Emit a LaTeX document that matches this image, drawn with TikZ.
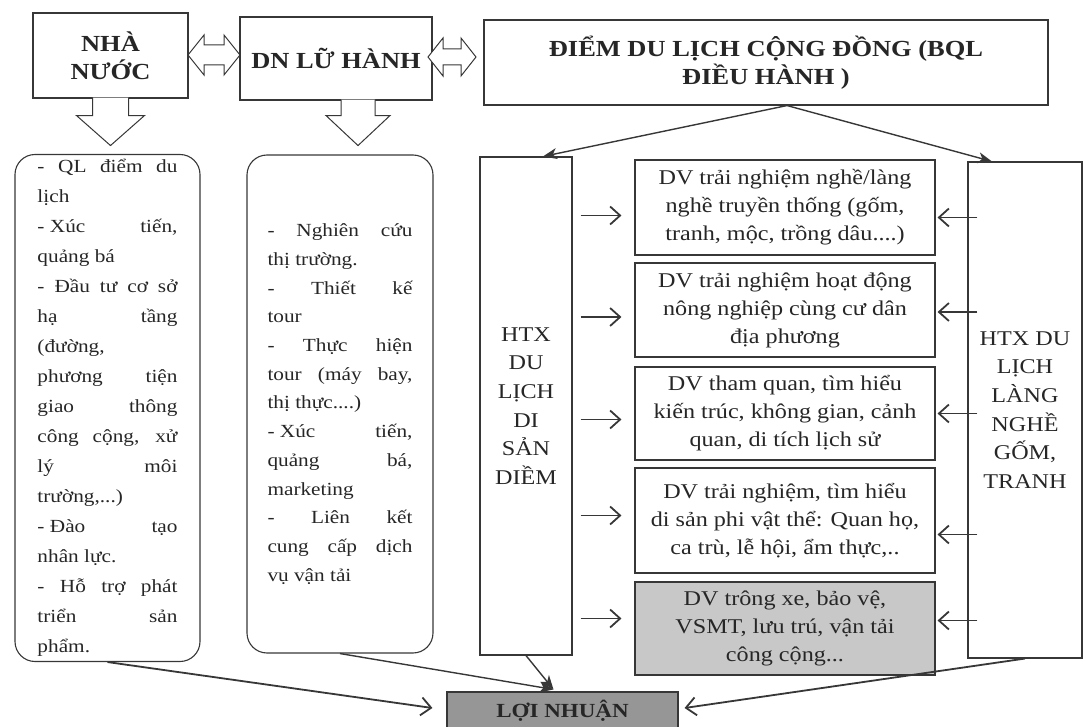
\documentclass[tikz,border=0pt]{standalone}
\usepackage{fontspec}
\setmainfont{Liberation Serif}[FakeStretch=1.15]
\usetikzlibrary{arrows.meta, positioning, calc}
\definecolor{linegray}{RGB}{55, 55, 55}
\definecolor{servgray}{RGB}{200, 200, 200}
\definecolor{profitgray}{RGB}{150, 150, 150}
\tolerance=10000
\hbadness=10000

\begin{document}
\begin{tikzpicture}[x=1pt, y=-1pt,
    box/.style={draw=linegray, line width=1.1pt, inner sep=4pt, align=center, text=black!85},
    headbox/.style={box, font=\fontsize{23}{28}\selectfont\bfseries},
    listbox/.style={box, rounded corners=20pt, align=justify, font=\fontsize{18.5}{28.7}\selectfont},
    htxbox/.style={box, font=\fontsize{21}{28.6}\selectfont},
    dvbox/.style={box, minimum width=300pt, font=\fontsize{21}{28}\selectfont},
    hollow/.style={draw=linegray, line width=1pt, fill=white, line join=miter},
    feed/.style={draw=linegray, line width=1.8pt, -{Straight Barb[length=10pt, width=18pt, line width=1.8pt]}},
    link/.style={draw=linegray, line width=1.4pt, -{Stealth[length=14pt, width=11pt, inset=4pt]}}
]
\useasboundingbox (0,0) rectangle (1085,727);

% top row
\node[headbox, minimum width=155pt, minimum height=85pt] (nha) at (110.5,55.5) {NHÀ\\NƯỚC};
\node[headbox, minimum width=192pt, minimum height=83pt] (dnlh) at (336,58.5) {DN LỮ HÀNH};
\node[headbox, minimum width=564pt, minimum height=85pt] (diem) at (766,62.5) {ĐIỂM DU LỊCH CỘNG ĐỒNG (BQL\\ĐIỀU HÀNH )};

% roles
\node[listbox, font=\fontsize{18.5}{30}\selectfont, text width=140pt, minimum width=185pt, minimum height=507pt] (qlbox) at (107.5,408) {
    - QL điểm du \linebreak lịch\\
    \mbox{- Xúc} tiến, \linebreak quảng bá\\
    - Đầu tư cơ sở \linebreak hạ tầng \linebreak (đường, \linebreak phương tiện \linebreak giao thông \linebreak công cộng, xử \linebreak lý môi \linebreak trường,...)\\
    \mbox{- Đào} tạo \linebreak nhân lực.\\
    - Hỗ trợ phát \linebreak triển sản \linebreak phẩm.
};
\node[listbox, text width=145pt, minimum width=186pt, minimum height=498pt] (dnbox) at (340,404) {
    - Nghiên cứu \linebreak thị trường.\\
    - Thiết kế \linebreak tour\\
    - Thực hiện \linebreak tour (máy bay, \linebreak thị thực....)\\
    \mbox{- Xúc} tiến, \linebreak quảng bá, \linebreak marketing\\
    - Liên kết \linebreak cung cấp dịch \linebreak vụ vận tải
};

% cooperatives
\node[htxbox, minimum width=92pt, minimum height=498pt] (htxdiem) at (526,406) {HTX\\DU\\LỊCH\\DI\\SẢN\\DIỀM};
\node[htxbox, minimum width=114pt, minimum height=496pt] (htxgom) at (1025,410) {HTX DU\\LỊCH\\LÀNG\\NGHỀ\\GỐM,\\TRANH};

% services
\node[dvbox, minimum height=95pt] (dv1) at (785,207.5) {DV trải nghiệm nghề/làng\\nghề truyền thống (gốm,\\tranh, mộc, trồng dâu....)};
\node[dvbox, minimum height=94pt] (dv2) at (785,310) {DV trải nghiệm hoạt động\\nông nghiệp cùng cư dân\\địa phương};
\node[dvbox, minimum height=93pt] (dv3) at (785,413.5) {DV tham quan, tìm hiểu\\kiến trúc, không gian, cảnh\\quan, di tích lịch sử};
\node[dvbox, minimum height=105pt] (dv4) at (785,520.5) {DV trải nghiệm, tìm hiểu\\di sản phi vật thể: Quan họ,\\ca trù, lễ hội, ẩm thực,..};
\node[dvbox, fill=servgray, minimum height=93pt] (dv5) at (785,628.5) {DV trông xe, bảo vệ,\\VSMT, lưu trú, vận tải\\công cộng...};

\node[headbox, fill=profitgray, font=\fontsize{20}{24}\selectfont\bfseries, minimum width=231pt, minimum height=38pt] (loi) at (562.5,711) {LỢI NHUẬN};

% hollow arrows
\coordinate (swap1) at (214,55);
\coordinate (swap2) at (452,57);
\draw[hollow, shift={(swap1)}] (-26,0) -- (-10,-20) -- (-10,-10) -- (10,-10) -- (10,-20) -- (26,0) -- (10,20) -- (10,10) -- (-10,10) -- (-10,20) -- cycle;
\draw[hollow, shift={(swap2)}] (-24,0) -- (-9,-19) -- (-9,-8) -- (9,-8) -- (9,-19) -- (24,0) -- (9,19) -- (9,8) -- (-9,8) -- (-9,19) -- cycle;
\draw[hollow, shift={(nha.south)}] (-18,-1) -- (-18,17) -- (-34,17) -- (0,47) -- (34,17) -- (18,17) -- (18,-1);
\draw[hollow, shift={($(dnlh.south)+(22,0)$)}] (-17,-1) -- (-17,15) -- (-32,15) -- (0,45) -- (32,15) -- (17,15) -- (17,-1);

% management to cooperatives
\draw[link] ($(diem.south)+(21,0)$) -- ($(htxdiem.north)+(17,0)$);
\draw[link] ($(diem.south)+(21,0)$) -- ($(htxgom.north)+(-33,0)$);

% cooperatives to services
\draw[feed] ($(htxdiem.east |- dv1.west)+(8,8)$) -- ($(dv1.west)+(-13,8)$);
\draw[feed] ($(htxdiem.east |- dv2.west)+(8,7)$) -- ($(dv2.west)+(-13,7)$);
\draw[feed] ($(htxdiem.east |- dv3.west)+(8,6)$) -- ($(dv3.west)+(-13,6)$);
\draw[feed] ($(htxdiem.east |- dv4.west)+(8,-5)$) -- ($(dv4.west)+(-13,-5)$);
\draw[feed] ($(htxdiem.east |- dv5.west)+(8,-10)$) -- ($(dv5.west)+(-13,-10)$);
\draw[feed] ($(htxgom.west |- dv1.east)+(10,10)$) -- ($(dv1.east)+(2,10)$);
\draw[feed] ($(htxgom.west |- dv2.east)+(10,2)$) -- ($(dv2.east)+(2,2)$);
\draw[feed] ($(htxgom.west |- dv3.east)+(10,0)$) -- ($(dv3.east)+(2,0)$);
\draw[feed] ($(htxgom.west |- dv4.east)+(10,14)$) -- ($(dv4.east)+(2,14)$);
\draw[feed] ($(htxgom.west |- dv5.east)+(10,-8)$) -- ($(dv5.east)+(2,-8)$);

% profit
\draw[feed] (qlbox.south) -- ($(loi.west)+(-14,-3)$);
\draw[link] (dnbox.south) -- ($(loi.north)+(-9,-2)$);
\draw[link] (htxdiem.south) -- ($(loi.north)+(-9,-2)$);
\draw[feed] (htxgom.south) -- ($(loi.east)+(6,-3)$);
\end{tikzpicture}
\end{document}
